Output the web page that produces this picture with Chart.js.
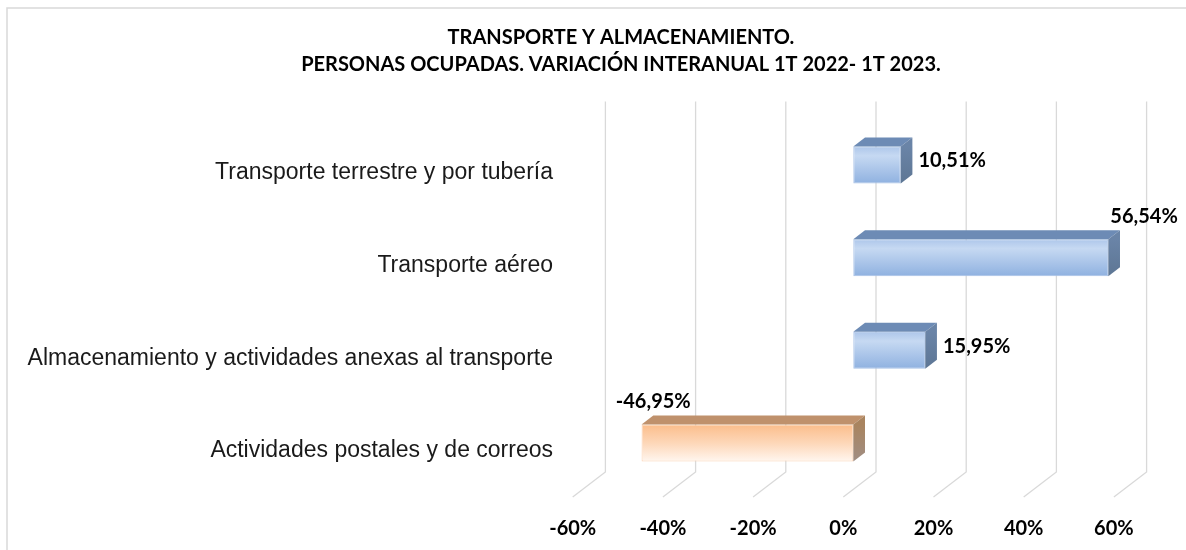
<!DOCTYPE html>
<html>
<head>
<meta charset="utf-8">
<script src="https://cdn.jsdelivr.net/npm/chart.js@4/dist/chart.umd.min.js"></script>
<style>
  html, body { margin: 0; padding: 0; background: #ffffff; }
  #wrap { width: 1186px; height: 550px; position: relative; }
</style>
</head>
<body>
<div id="wrap"><canvas id="c" width="1186" height="550"></canvas></div>
<script>
const titleLines = ['TRANSPORTE Y ALMACENAMIENTO.', 'PERSONAS OCUPADAS. VARIACIÓN INTERANUAL 1T 2022- 1T 2023.'];
const categories = [
  'Transporte terrestre y por tubería',
  'Transporte aéreo',
  'Almacenamiento y actividades anexas al transporte',
  'Actividades postales y de correos'
];
const values = [10.51, 56.54, 15.95, -46.95];
const xMin = -60;
const xMax = 60;
const xStep = 20;

const BAR_DEPTH = { x: 11.7, y: -9 };
const BACK = { x: 22.7, y: -17.3 };
const FRONT = { x: -10, y: 7.7 };
const GRID_COLOR = '#d9d9d9';
const TITLE_LEFT = 118;

function fmt(v) { return v.toFixed(2).replace('.', ',') + '%'; }

function frontGradient(chart, idx, positive) {
  const fallback = positive ? '#b0c9ec' : '#fcd0ad';
  const y = chart.scales && chart.scales.y;
  if (!y) return fallback;
  const c = y.getPixelForValue(idx);
  if (!isFinite(c)) return fallback;
  const h = 18.5;
  const g = chart.ctx.createLinearGradient(0, c - h, 0, c + h);
  if (positive) {
    g.addColorStop(0, '#adc6ea');
    g.addColorStop(0.25, '#c6d9f2');
    g.addColorStop(1, '#8fb1e0');
  } else {
    g.addColorStop(0, '#fbbd8b');
    g.addColorStop(0.5, '#fdd7b8');
    g.addColorStop(1, '#fff6ef');
  }
  return g;
}

const framePlugin = {
  id: 'frame',
  afterLayout(chart) {
    if (chart.titleBlock) { chart.titleBlock.left = TITLE_LEFT; }
  },
  beforeDraw(chart) {
    const ctx = chart.ctx;
    ctx.save();
    ctx.fillStyle = '#ffffff';
    ctx.fillRect(0, 0, chart.width, chart.height);
    ctx.strokeStyle = '#d9d9d9';
    ctx.lineWidth = 1.5;
    ctx.strokeRect(7, 8, chart.width + 20, chart.height + 20);
    ctx.restore();
  }
};

const grid3dPlugin = {
  id: 'grid3d',
  beforeDatasetsDraw(chart) {
    const ctx = chart.ctx;
    const xs = chart.scales.x;
    const a = chart.chartArea;
    ctx.save();
    ctx.strokeStyle = GRID_COLOR;
    ctx.lineWidth = 1.3;
    xs.ticks.forEach(t => {
      const px = xs.getPixelForValue(t.value);
      ctx.beginPath();
      ctx.moveTo(px + BACK.x, a.top + BACK.y);
      ctx.lineTo(px + BACK.x, a.bottom + BACK.y);
      ctx.lineTo(px + FRONT.x, a.bottom + FRONT.y);
      ctx.stroke();
    });
    ctx.restore();
  }
};

const bar3dPlugin = {
  id: 'bar3d',
  afterDatasetsDraw(chart) {
    const ctx = chart.ctx;
    const meta = chart.getDatasetMeta(0);
    ctx.save();
    meta.data.forEach((bar, i) => {
      const v = values[i];
      const pos = v >= 0;
      const x0 = Math.min(bar.x, bar.base);
      const x1 = Math.max(bar.x, bar.base);
      const top = bar.y - bar.height / 2;
      const bottom = bar.y + bar.height / 2;
      const dx = BAR_DEPTH.x, dy = BAR_DEPTH.y;
      ctx.beginPath();
      ctx.moveTo(x0, top);
      ctx.lineTo(x0 + dx, top + dy);
      ctx.lineTo(x1 + dx, top + dy);
      ctx.lineTo(x1, top);
      ctx.closePath();
      ctx.fillStyle = pos ? '#6d8bb5' : '#bf916c';
      ctx.fill();
      const sg = ctx.createLinearGradient(0, top, 0, bottom);
      if (pos) { sg.addColorStop(0, '#6a84a7'); sg.addColorStop(1, '#5d7694'); }
      else { sg.addColorStop(0, '#a9845f'); sg.addColorStop(1, '#a08e84'); }
      ctx.beginPath();
      ctx.moveTo(x1, top);
      ctx.lineTo(x1 + dx, top + dy);
      ctx.lineTo(x1 + dx, bottom + dy);
      ctx.lineTo(x1, bottom);
      ctx.closePath();
      ctx.fillStyle = sg;
      ctx.fill();

      const txt = fmt(v);
      ctx.font = 'bold 20px Lato, "Open Sans", sans-serif';
      ctx.fillStyle = '#000000';
      ctx.textBaseline = 'middle';
      const w = ctx.measureText(txt).width;
      const end = pos ? x1 : x0;
      if (pos && end + dx + 6 + w <= chart.width - 10) {
        ctx.textAlign = 'left';
        ctx.fillText(txt, end + dx + 6, bar.y - 4);
      } else if (pos) {
        ctx.textAlign = 'left';
        ctx.fillText(txt, end + 2, top + dy - 14);
      } else {
        ctx.textAlign = 'center';
        ctx.fillText(txt, end + dx, top + dy - 14);
      }
    });
    ctx.restore();
  }
};

const chart = new Chart(document.getElementById('c'), {
  type: 'bar',
  data: {
    labels: categories,
    datasets: [{
      data: values,
      backgroundColor: (ctx) => frontGradient(ctx.chart, ctx.dataIndex, values[ctx.dataIndex] >= 0),
      borderColor: (ctx) => values[ctx.dataIndex] >= 0 ? '#a7c1e6' : '#fcd3b4',
      borderWidth: 1,
      borderSkipped: false,
      barPercentage: 0.4,
      categoryPercentage: 1.0
    }]
  },
  options: {
    indexAxis: 'y',
    responsive: false,
    animation: false,
    devicePixelRatio: 1,
    layout: { padding: { left: 0, right: 62.1, top: 0, bottom: 0 } },
    plugins: {
      legend: { display: false },
      tooltip: { enabled: false },
      title: {
        display: true,
        text: titleLines,
        color: '#000000',
        font: { family: 'Lato, "Open Sans", sans-serif', size: 20, weight: 'bold', lineHeight: 1.35 },
        padding: { top: 24.5, bottom: 40.2 }
      }
    },
    scales: {
      x: {
        type: 'linear',
        min: xMin,
        max: xMax,
        ticks: {
          stepSize: xStep,
          callback: (v) => v + '%',
          color: '#000000',
          font: { family: 'Lato, "Open Sans", sans-serif', size: 20, weight: 'bold' },
          padding: 27,
          labelOffset: -10,
          maxRotation: 0
        },
        grid: { display: false, drawTicks: false },
        border: { display: false },
        afterFit: (axis) => { axis.height = 60.7; }
      },
      y: {
        type: 'category',
        ticks: {
          color: '#1a1a1a',
          font: { family: '"Liberation Sans", Arial, sans-serif', size: 23 },
          padding: 29.7,
          labelOffset: 8
        },
        grid: { display: false, drawTicks: false },
        border: { display: false },
        afterFit: (axis) => { axis.width = 582.7; }
      }
    }
  },
  plugins: [framePlugin, grid3dPlugin, bar3dPlugin]
});
</script>
</body>
</html>
